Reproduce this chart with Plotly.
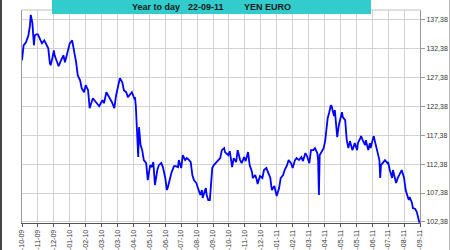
import plotly.graph_objects as go

# trading-session index (20 sessions between date labels) and YEN/EURO rate
session = [0, 2, 5, 8, 10, 11, 13, 14, 15, 16, 18, 20, 23, 25, 28, 30, 33, 35, 36, 38,
           40, 41, 44, 46, 49, 52, 54, 58, 60, 63, 65, 68, 70, 73, 75, 78, 80, 83, 85, 89,
           93, 97, 101, 103, 106, 108, 111, 113, 116, 118, 121, 123, 126, 128, 131, 133, 136, 138, 141, 142,
           143, 144, 145, 146, 147, 148, 149, 151, 153, 156, 157, 158, 161, 163, 165, 166, 167, 170, 172, 175,
           177, 180, 181, 182, 183, 186, 188, 191, 193, 196, 197, 200, 202, 205, 207, 210, 212, 214, 216, 219,
           221, 224, 226, 227, 230, 231, 232, 234, 236, 239, 241, 244, 246, 249, 251, 254, 255, 259, 261, 264,
           266, 269, 271, 274, 276, 279, 281, 284, 286, 289, 290, 293, 295, 296, 299, 302, 304, 307, 309, 312,
           313, 314, 317, 319, 320, 323, 325, 328, 330, 333, 335, 338, 340, 343, 345, 348, 351, 353, 356, 358,
           361, 363, 366, 368, 371, 372, 373, 374, 377, 379, 381, 383, 384, 386, 387, 388, 389, 391, 392, 393,
           396, 398, 400, 402, 403, 406, 408, 410, 412, 415, 416, 418, 421, 422, 425, 426, 428, 431, 432, 435,
           437, 438, 441, 442, 443, 446, 449, 450, 451, 454, 456, 459, 460, 462, 465, 466, 469, 470, 472, 475,
           477, 480, 481, 482, 485, 486, 487, 490, 491, 494, 496, 497, 499, 500]
rate = [130.31, 132.90, 133.41, 134.60, 136.30, 138.16, 136.80, 134.10, 132.90, 134.60, 134.79, 134.79, 133.76, 133.24, 133.76, 133.07, 132.38, 129.79, 129.45, 130.60,
        132.03, 131.17, 129.97, 129.28, 130.31, 131.17, 129.97, 132.03, 133.24, 133.76, 132.38, 129.97, 127.73, 126.86, 125.48, 124.79, 126.00, 125.14, 122.03, 123.76,
        123.07, 122.38, 123.41, 122.90, 124.79, 124.28, 123.76, 123.07, 122.03, 124.10, 126.00, 127.21, 126.52, 125.14, 124.79, 123.93, 124.45, 124.79, 123.76, 123.93,
        122.38, 119.97, 117.04, 113.59, 118.76, 117.38, 115.66, 114.79, 113.07, 112.55, 111.00, 109.62, 112.21, 111.86, 112.72, 111.35, 108.76, 111.35, 112.21, 112.55,
        111.86, 109.97, 108.76, 107.90, 108.24, 109.97, 111.00, 112.03, 112.03, 111.86, 113.07, 111.69, 113.93, 113.07, 113.41, 113.07, 112.72, 110.48, 109.62, 109.10,
        108.24, 107.04, 107.90, 106.52, 107.90, 108.24, 107.04, 106.17, 106.17, 111.69, 112.21, 112.72, 113.07, 113.41, 114.79, 115.14, 114.45, 113.93, 114.60, 111.86,
        113.41, 112.72, 114.79, 113.07, 112.55, 113.59, 112.90, 114.45, 112.21, 111.00, 109.97, 110.48, 109.62, 108.93, 110.31, 109.97, 111.35, 111.69, 111.00, 109.97,
        108.76, 107.90, 108.59, 107.55, 106.86, 108.24, 109.97, 110.48, 111.35, 112.21, 113.07, 112.55, 111.69, 113.07, 113.41, 113.07, 113.59, 112.90, 114.28, 113.76,
        112.55, 114.79, 114.79, 115.14, 114.28, 113.07, 107.04, 113.93, 114.79, 115.14, 116.52, 118.59, 120.31, 121.35, 122.03, 122.55, 122.38, 121.35, 120.66, 121.69,
        117.04, 119.10, 120.31, 121.35, 120.48, 119.97, 116.52, 115.14, 116.35, 114.79, 115.14, 116.00, 114.79, 116.00, 116.86, 117.21, 116.52, 115.66, 116.52, 114.79,
        116.00, 115.14, 116.86, 117.21, 116.52, 114.79, 113.07, 109.97, 112.21, 112.72, 113.07, 112.55, 112.72, 111.35, 109.97, 111.35, 109.62, 109.10, 109.97, 110.83,
        111.35, 109.97, 108.76, 107.90, 106.52, 106.17, 106.69, 105.66, 104.79, 104.62, 104.10, 103.60, 102.38, 102.38]

tick_sessions = list(range(0, 501, 20))
tick_labels = ["7-10-09", "4-11-09", "2-12-09", "5-01-10", "2-02-10", "2-03-10", "30-03-10",
               "28-04-10", "27-05-10", "24-06-10", "22-07-10", "19-08-10", "16-09-10",
               "14-10-10", "11-11-10", "9-12-10", "10-01-11", "7-02-11", "7-03-11",
               "4-04-11", "3-05-11", "31-05-11", "28-06-11", "26-07-11", "23-08-11", "22-09-11"]
y_ticks = [102.38, 107.38, 112.38, 117.38, 122.38, 127.38, 132.38, 137.38]
y_labels = [f"{v:.2f}".replace(".", ",") for v in y_ticks]

fig = go.Figure()
fig.add_trace(go.Scatter(x=session, y=rate, mode="lines",
                         line=dict(color="#0000FF", width=1.8), hoverinfo="skip"))

L, R, T, B = 22, 30, 10, 27
W, H = 450, 250
pw, ph = W - L - R, H - T - B

def px(x):
    return (x - L) / pw

def py(y):
    return (H - B - y) / ph

fig.update_layout(
    width=W, height=H,
    margin=dict(l=L, r=R, t=T, b=B),
    paper_bgcolor="white", plot_bgcolor="white",
    showlegend=False,
    font=dict(family="Liberation Sans, Arial, sans-serif", size=7, color="#333333"),
    xaxis=dict(range=[0, 500], tickvals=tick_sessions, ticktext=tick_labels,
               tickangle=-90, showgrid=True, gridcolor="#d2d2d2", gridwidth=1,
               showline=True, linecolor="#555555", linewidth=1,
               ticks="outside", ticklen=3, tickcolor="#555555",
               zeroline=False, fixedrange=True, automargin=False),
    yaxis=dict(range=[102.2, 139.0], side="right", tickvals=y_ticks, ticktext=y_labels,
               showgrid=True, gridcolor="#d2d2d2", gridwidth=1,
               showline=True, linecolor="#999999", linewidth=1, mirror=True,
               ticks="outside", ticklen=4, tickcolor="#999999",
               zeroline=False, fixedrange=True, automargin=False),
    shapes=[
        dict(type="line", xref="paper", yref="paper", x0=0, x1=1, y0=1, y1=1,
             line=dict(color="#c0c0c0", width=1)),
        dict(type="rect", xref="paper", yref="paper",
             x0=px(52), x1=px(371), y0=py(14), y1=py(-1),
             fillcolor="#33CCCC", line=dict(width=0), layer="above"),
        dict(type="rect", xref="paper", yref="paper",
             x0=px(-1), x1=px(2), y0=py(251), y1=py(-1),
             fillcolor="#444444", line=dict(width=0)),
        dict(type="line", xref="paper", yref="paper",
             x0=px(449.5), x1=px(449.5), y0=py(251), y1=py(-1),
             line=dict(color="#bbbbbb", width=1)),
    ],
    annotations=[
        dict(text="<b>Year to day</b>", xref="paper", yref="paper", x=px(156), y=py(7),
             showarrow=False, font=dict(size=9, color="#1a1a1a"), xanchor="center", yanchor="middle"),
        dict(text="<b>22-09-11</b>", xref="paper", yref="paper", x=px(206), y=py(7),
             showarrow=False, font=dict(size=9, color="#1a1a1a"), xanchor="center", yanchor="middle"),
        dict(text="<b>YEN EURO</b>", xref="paper", yref="paper", x=px(267.5), y=py(7),
             showarrow=False, font=dict(size=9, color="#1a1a1a"), xanchor="center", yanchor="middle"),
    ],
)

fig.write_html("out.html", config={"displayModeBar": False})
